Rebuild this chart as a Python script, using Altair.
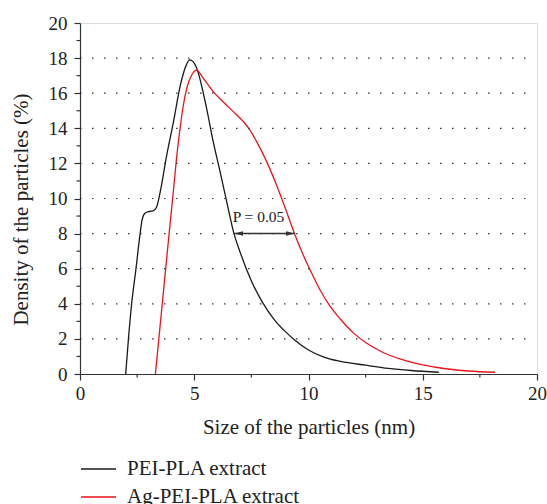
import altair as alt
import pandas as pd

# ---- data ----
series_names = ["PEI-PLA extract", "Ag-PEI-PLA extract"]
series_colors = ["#1a1a1a", "#e8141c"]

black_x = [2.0, 2.12, 2.26, 2.45, 2.63, 2.72, 2.83, 3.0, 3.2, 3.35, 3.5, 3.8, 4.08, 4.4, 4.65, 4.8,
           4.95, 5.1, 5.54, 5.83, 6.13, 6.42, 6.74, 7.0, 7.5, 8.0, 8.5, 9.0, 9.34, 10.0, 10.7,
           11.4, 12.5, 13.5, 14.5, 15.7]
black_y = [0.0, 2.0, 4.0, 6.0, 8.0, 8.8, 9.15, 9.25, 9.3, 9.5, 10.3, 12.5, 14.3, 16.5, 17.6, 17.9,
           17.8, 17.45, 15.14, 13.24, 11.53, 9.82, 8.0, 6.97, 5.3, 4.05, 3.1, 2.4, 2.0, 1.37, 0.95,
           0.72, 0.5, 0.32, 0.2, 0.1]

red_x = [3.3, 3.6, 3.9, 4.1, 4.25, 4.38, 4.52, 4.67, 4.89, 5.1, 5.4, 5.83, 6.27, 6.71, 7.15, 7.44,
         7.73, 8.17, 8.6, 9.04, 9.41, 9.77, 10.07, 10.5, 10.94, 11.38, 12.0, 12.55, 13.2, 14.0,
         15.0, 16.0, 17.0, 18.16]
red_y = [0.0, 4.0, 8.0, 10.6, 12.6, 14.0, 15.3, 16.28, 17.04, 17.32, 16.85, 16.09, 15.5, 14.95, 14.38, 13.9,
         13.24, 12.1, 10.77, 9.25, 7.92, 6.78, 5.93, 4.8, 3.87, 3.15, 2.3, 1.75, 1.27, 0.86,
         0.52, 0.3, 0.17, 0.1]

arrow_x = [6.74, 9.41]
arrow_y = [8.0, 8.0]
annot_text = ["P = 0.05"]
annot_x = [6.68]
annot_y = [8.95]

x_major = [0, 5, 10, 15, 20]
x_minor = [2.5, 7.5, 12.5, 17.5]
y_major = [0, 2, 4, 6, 8, 10, 12, 14, 16, 18, 20]
y_minor = [1, 3, 5, 7, 9, 11, 13, 15, 17, 19]
grid_levels = [2, 4, 6, 8, 10, 12, 14, 16, 18]

X_TITLE = "Size of the particles (nm)"
Y_TITLE = "Density of the particles (%)"

FONT = "Liberation Serif"
INK = "#222222"
AX = "#333333"

df = pd.concat([
    pd.DataFrame({"x": black_x, "y": black_y, "series": series_names[0]}),
    pd.DataFrame({"x": red_x, "y": red_y, "series": series_names[1]}),
], ignore_index=True)

xscale = alt.Scale(domain=[0, 20], nice=False, zero=False)
yscale = alt.Scale(domain=[0, 20], nice=False)

x_axis = alt.Axis(
    values=x_major, tickCount=40, format="d", tickSize=6, grid=False, labelOverlap=False, labelFlush=False,
    domainColor=AX, tickColor=AX, domainWidth=1.2, tickWidth=1.2,
    labelFont=FONT, labelFontSize=19, labelColor=INK, labelPadding=4,
    titleFont=FONT, titleFontSize=21, titleFontWeight="normal", titleColor=INK,
    titleBaseline="alphabetic", titleY=59,
)
y_axis = alt.Axis(
    values=y_major, tickCount=40, format="d", tickSize=6, grid=False, labelOverlap=False, labelFlush=False,
    domainColor=AX, tickColor=AX, domainWidth=1.2, tickWidth=1.2,
    labelFont=FONT, labelFontSize=19, labelColor=INK, labelPadding=7,
    titleFont=FONT, titleFontSize=21, titleFontWeight="normal", titleColor=INK,
    titleBaseline="alphabetic", titleX=-53, titleY=186,
)


def X(field="x:Q"):
    return alt.X(field, scale=xscale, axis=x_axis, title=X_TITLE)


def Y(field="y:Q"):
    return alt.Y(field, scale=yscale, axis=y_axis, title=Y_TITLE)


# dotted horizontal grid
grid = alt.Chart(pd.DataFrame({"y": grid_levels})).mark_rule(
    color=AX, strokeWidth=1.2, strokeDash=[1.5, 10.5]
).encode(y=Y(), x=alt.value(0), x2=alt.value(450))

# minor ticks
y_minor_ticks = alt.Chart(pd.DataFrame({"y": y_minor})).mark_rule(color=AX, strokeWidth=1.2).encode(
    y=Y(), x=alt.value(-3.5), x2=alt.value(0)
)
x_minor_ticks = alt.Chart(pd.DataFrame({"x": x_minor})).mark_rule(color=AX, strokeWidth=1.2).encode(
    x=X(), y=alt.value(351), y2=alt.value(354.5)
)

lines = alt.Chart(df).mark_line(strokeWidth=1.3, interpolate="monotone").encode(
    x=X(),
    y=Y(),
    color=alt.Color("series:N",
                    scale=alt.Scale(domain=series_names, range=series_colors),
                    legend=alt.Legend(
                        title=None, orient="none", legendX=0, legendY=432,
                        symbolType="stroke", symbolSize=1225, symbolStrokeWidth=1.5,
                        clipHeight=28, rowPadding=0, padding=0, labelOffset=10,
                        labelLimit=400,
                        labelFont=FONT, labelFontSize=21, labelColor=INK,
                    )),
)

arrow_df = pd.DataFrame({"x": [arrow_x[0]], "x2": [arrow_x[1]], "y": [arrow_y[0]]})
arrow_line = alt.Chart(arrow_df).mark_rule(color=AX, strokeWidth=1.5).encode(
    x=X(), x2="x2:Q", y=Y(),
)
left_head = alt.Chart(pd.DataFrame({"x": [arrow_x[0]], "y": [arrow_y[0]]})).mark_point(
    shape="M0,0L2,-0.5L2,0.5Z", filled=True, size=81, color=AX, opacity=1
).encode(x=X(), y=Y())
right_head = alt.Chart(pd.DataFrame({"x": [arrow_x[1]], "y": [arrow_y[1]]})).mark_point(
    shape="M0,0L-2,-0.5L-2,0.5Z", filled=True, size=81, color=AX, opacity=1
).encode(x=X(), y=Y())

annot = alt.Chart(pd.DataFrame({"x": annot_x, "y": annot_y, "t": annot_text})).mark_text(
    align="left", baseline="middle", font=FONT, fontSize=15.5, color=INK
).encode(x=X(), y=Y(), text="t:N")

chart = alt.layer(lines, grid, y_minor_ticks, x_minor_ticks, arrow_line, left_head, right_head, annot).properties(
    width=457, height=351,
    autosize=alt.AutoSizeParams(type="none"),
    padding={"left": 80, "top": 23, "right": 10, "bottom": 130},
).configure_view(strokeWidth=0, stroke="transparent").configure(background="white")

chart.save("out.html", embed_options={"renderer": "svg", "actions": False})
